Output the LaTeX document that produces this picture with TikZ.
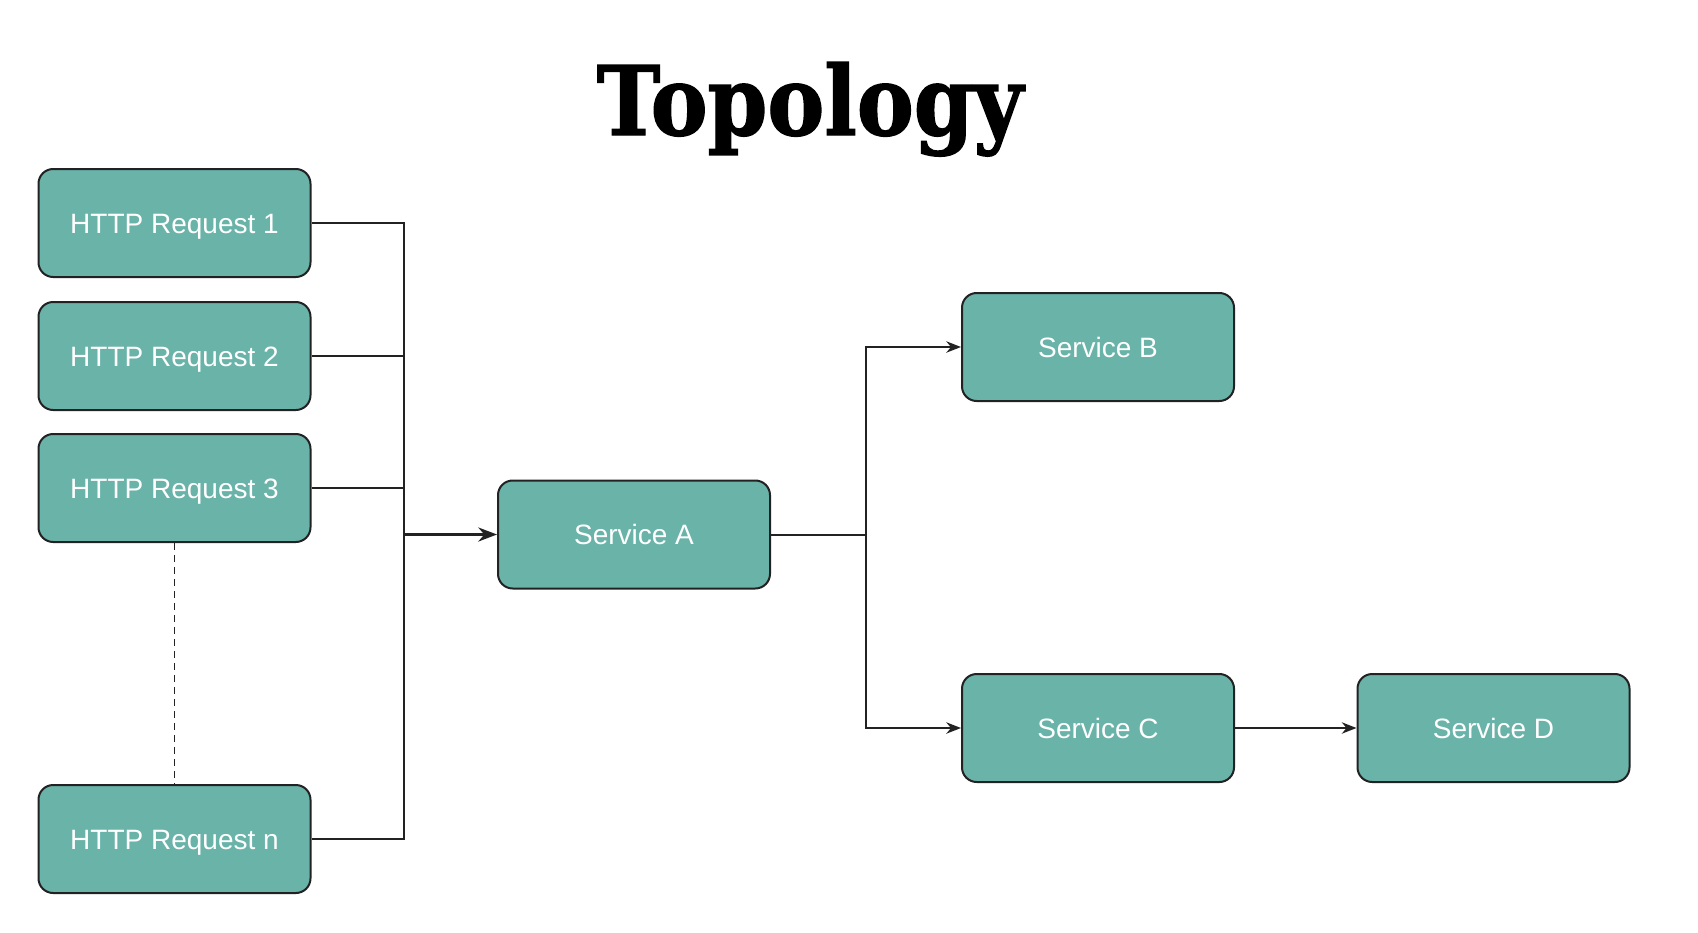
\documentclass[tikz,border=0pt]{standalone}
\usepackage{fontspec}
\setmainfont{Liberation Sans}
\newfontfamily\titlefont{DejaVu Serif}[BoldFeatures={FakeBold=1.5}]
\usetikzlibrary{arrows.meta}
\definecolor{boxfill}{HTML}{69B3A9}
\definecolor{edge}{HTML}{222222}
\tikzset{
  svc/.style={draw=edge, line width=1.5pt, fill=boxfill, rounded corners=11pt,
    minimum width=204pt, minimum height=81pt, inner sep=0pt,
    font=\fontsize{21}{24}\selectfont, text=white, text height=15pt, text depth=0pt},
  wire/.style={draw=edge, line width=1.5pt},
  arr/.style={wire, -{Stealth[length=11pt,width=8.5pt,inset=3.5pt]}},
}
\begin{document}
\begin{tikzpicture}[x=0.75pt,y=-0.75pt]
\useasboundingbox (0,0) rectangle (1698,932);
\node[inner sep=0pt, anchor=base] (title) at (810,135) {\scalebox{0.89}[1]{\titlefont\bfseries\fontsize{72}{76}\selectfont Topology}};
\node[svc] (r1) at (174.5,223) {HTTP Request 1};
\node[svc] (r2) at (174.5,356) {HTTP Request 2};
\node[svc] (r3) at (174.5,488) {HTTP Request 3};
\node[svc] (rn) at (174.5,839) {HTTP Request n};
\node[svc] (sa) at (634,534.5) {Service A};
\node[svc] (sb) at (1098,347) {Service B};
\node[svc] (sc) at (1098,728) {Service C};
\node[svc] (sd) at (1493.5,728) {Service D};
\coordinate (bus1) at (404,223);
\coordinate (busn) at (404,839);
\coordinate (busa) at (404,534.5);
\coordinate (fork) at (866,534.5);
\draw[wire] (r1.east) -- (bus1) -- (busn) -- (rn.east);
\draw[wire] (r2.east) -- (r2.east -| bus1);
\draw[wire] (r3.east) -- (r3.east -| bus1);
\draw[wire, line width=2pt, -{Stealth[length=14pt,width=10.5pt,inset=4.5pt]}] (busa) -- (sa.west);
\draw[wire] (sa.east) -- (fork);
\draw[arr] (fork) |- (sb.west);
\draw[arr] (fork) |- (sc.west);
\draw[arr] (sc.east) -- (sd.west);
\draw[draw=edge, line width=1.2pt, dash pattern=on 5pt off 4pt] (r3.south) -- (rn.north);
\end{tikzpicture}
\end{document}
